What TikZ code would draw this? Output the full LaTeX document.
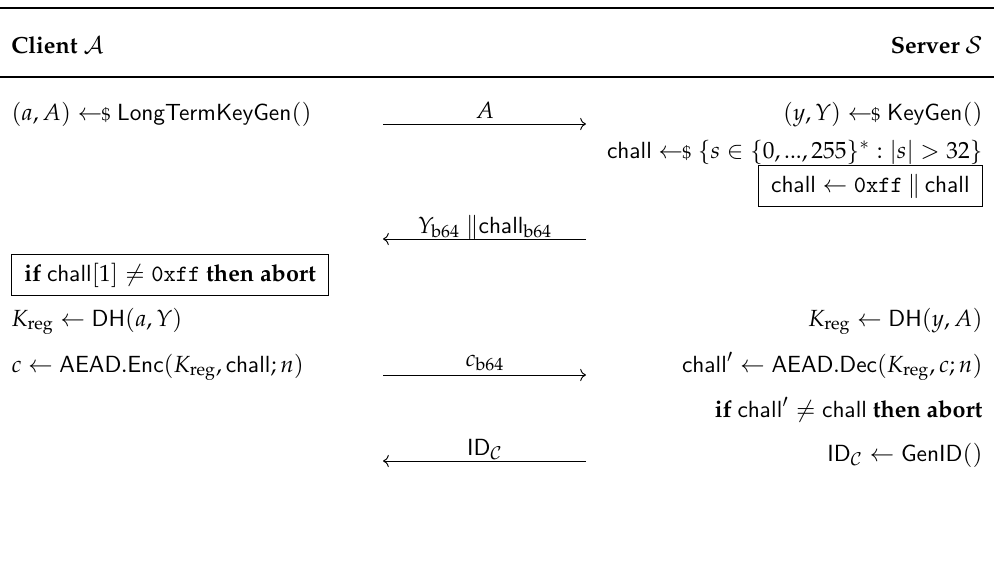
\documentclass[tikz,border=0pt]{standalone}
\usepackage[OT1]{fontenc}
\usepackage{mathpazo}
\usepackage{amsmath}
\renewcommand{\sfdefault}{cmss}
\renewcommand{\ttdefault}{cmtt}
\usetikzlibrary{arrows.meta}

% protocol notation
\newcommand{\smpl}{\mathrel{\gets\!\!{\scriptstyle\$}}}
\newcommand{\alg}[1]{\mathsf{#1}}
\newcommand{\ch}{\mathsf{chall}}
\newcommand{\bsf}{\mathrm{b64}}
\newcommand{\ff}{\texttt{0xff}}
\newcommand{\Kr}{K_{\mathrm{reg}}}

\begin{document}
\begin{tikzpicture}[x=0.428pt,y=-0.428pt,
  lft/.style={anchor=base west,inner sep=0pt},
  rgt/.style={anchor=base east,inner sep=0pt},
  msg/.style={anchor=base,inner sep=0pt},
  rule/.style={line width=0.8pt},
  thinrule/.style={line width=0.5pt},
  flow/.style={line width=0.4pt},
  framed/.style={draw,line width=0.4pt,inner xsep=5.5pt,inner ysep=3.5pt}]
\useasboundingbox (0,0) rectangle (994,567);

% header rules
\coordinate (t0) at (0,8);  \coordinate (t1) at (994,8);
\coordinate (h0) at (0,77); \coordinate (h1) at (994,77);
\draw[rule] (t0) -- (t1);
\draw[thinrule] (h0) -- (h1);

% parties
\node[lft] (cli) at (11,53) {\textbf{Client} $\mathcal{A}$};
\node[rgt] (srv) at (983,53) {\textbf{Server} $\mathcal{S}$};

% row 1
\node[lft] (c1) at (11,120) {$(a,A)\smpl\alg{LongTermKeyGen}()$};
\node[rgt] (s1) at (983,120) {$(y,Y)\smpl\alg{KeyGen}()$};
\coordinate (a1l) at (383,124); \coordinate (a1r) at (586,124);
\draw[flow,->] (a1l) -- (a1r);
\node[msg] (m1) at (485,118) {$A$};

% challenge generation
\node[rgt] (s2) at (983,158) {$\ch\smpl\{s\in\{0,...,255\}^*:|s|>32\}$};
\node[framed,anchor=east] (s3) at (983,186) {$\ch\gets\ff\mathbin{\|}\ch$};

% second message
\coordinate (a2l) at (383,239); \coordinate (a2r) at (586,239);
\draw[flow,->] (a2r) -- (a2l);
\node[msg] (m2) at (485,233) {$Y_{\bsf}~\|\ch_{\bsf}$};

% client check
\node[framed,anchor=west] (c2) at (11,275) {$\textbf{if}~\ch[1]\neq\ff~\textbf{then abort}$};

% key derivation
\node[lft] (c3) at (11,326) {$\Kr\gets\alg{DH}(a,Y)$};
\node[rgt] (s4) at (983,326) {$\Kr\gets\alg{DH}(y,A)$};

% encryption
\node[lft] (c4) at (11,372) {$c\gets\alg{AEAD.Enc}(\Kr,\ch;n)$};
\node[rgt] (s5) at (983,372) {$\ch'\gets\alg{AEAD.Dec}(\Kr,c;n)$};
\coordinate (a3l) at (383,375); \coordinate (a3r) at (586,375);
\draw[flow,->] (a3l) -- (a3r);
\node[msg] (m3) at (485,366) {$c_{\bsf}$};

\node[rgt] (s6) at (983,417) {$\textbf{if}~\ch'\neq\ch~\textbf{then abort}$};

% identifier
\node[rgt] (s7) at (983,461) {$\alg{ID}_{\mathcal{C}}\gets\alg{GenID}()$};
\coordinate (a4l) at (383,461); \coordinate (a4r) at (586,461);
\draw[flow,->] (a4r) -- (a4l);
\node[msg] (m4) at (485,455) {$\alg{ID}_{\mathcal{C}}$};
\end{tikzpicture}
\end{document}
